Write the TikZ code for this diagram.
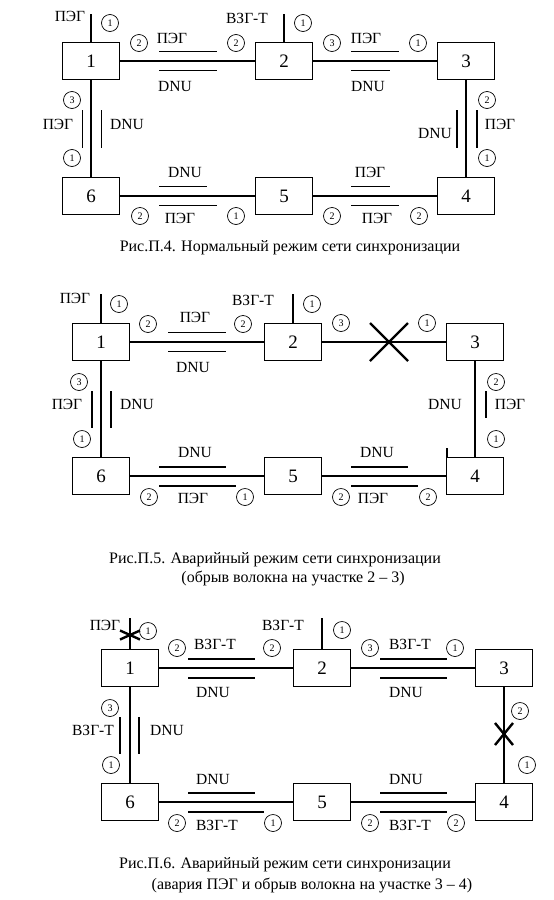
\documentclass[tikz,border=0pt]{standalone}
\usepackage{fontspec}
\setmainfont{Liberation Serif}

\begin{document}
\begin{tikzpicture}[x=1pt,y=-1pt,
  box/.style={draw,line width=1.8pt,minimum width=57pt,minimum height=37pt,inner sep=0pt,font=\fontsize{19}{19}\selectfont},
  link/.style={line width=1.5pt},
  bar/.style={line width=1.3pt},
  port/.style={circle,draw,line width=0.7pt,minimum size=17pt,inner sep=0pt,font=\fontsize{10}{10}\selectfont},
  lbl/.style={inner sep=0pt,font=\fontsize{15.5}{15.5}\selectfont},
  cut/.style={line width=2.4pt},
  capt/.style={inner sep=0pt,font=\fontsize{16}{16}\selectfont}]
  \useasboundingbox (0,0) rectangle (554,900);

  % Рис.П.4
  \begin{scope}[shift={(91,61)},name prefix=a-]
    \foreach \i/\x/\y in {1/0/0,2/193/0,3/375/0,4/375/135,5/193/135,6/0/135}
      \node[box] (n\i) at (\x,\y) {\i};
    \coordinate (t1) at (0,-47);
    \coordinate (t2) at (193,-47);
    \draw[link] (n1) -- (t1) (n2) -- (t2);
    \draw[link] (n1) -- (n2) (n2) -- (n3) (n3) -- (n4)
                (n4) -- (n5) (n5) -- (n6) (n6) -- (n1);

    \node[lbl] (l1) at (-21,-45) {ПЭГ};
    \node[port] (p1) at (19,-38) {1};
    \node[lbl] (l2) at (156,-43) {ВЗГ-Т};
    \node[port] (p2) at (212,-38) {1};

    \node[port] (p3) at (48,-18) {2};
    \node[lbl] (l3) at (81,-23) {ПЭГ};
    \node[port] (p4) at (145,-18) {2};
    \draw[bar] (68,-9.5) -- (126,-9.5) (68,9.5) -- (126,9.5);
    \node[lbl] (l4) at (84,25) {DNU};

    \node[port] (p5) at (241,-18) {3};
    \node[lbl] (l5) at (275,-23) {ПЭГ};
    \node[port] (p6) at (327,-18) {1};
    \draw[bar] (260,-9.5) -- (308,-9.5) (260,9.5) -- (299,9.5);
    \node[lbl] (l6) at (277,25) {DNU};

    \node[port] (p7) at (-19,39) {3};
    \node[lbl] (l7) at (-33,63) {ПЭГ};
    \draw[bar] (-8.5,49) -- (-8.5,87) (10.5,49) -- (10.5,87);
    \node[lbl] (l8) at (36,63) {DNU};
    \node[port] (p8) at (-19,97) {1};

    \node[port] (p9) at (396,39) {2};
    \node[lbl] (l9) at (344,72) {DNU};
    \draw[bar] (366,49) -- (366,87) (386,49) -- (386,87);
    \node[lbl] (l10) at (409,63) {ПЭГ};
    \node[port] (p10) at (396,97) {1};

    \node[lbl] (l11) at (94,111) {DNU};
    \draw[bar] (68,125.5) -- (116,125.5) (68,144.5) -- (126,144.5);
    \node[port] (p11) at (49,155) {2};
    \node[lbl] (l12) at (89,157) {ПЭГ};
    \node[port] (p12) at (145,155) {1};

    \node[lbl] (l13) at (279,111) {ПЭГ};
    \draw[bar] (260,125.5) -- (299,125.5) (260,144.5) -- (308,144.5);
    \node[port] (p13) at (241,155) {2};
    \node[lbl] (l14) at (286,157) {ПЭГ};
    \node[port] (p14) at (328,155) {2};
  \end{scope}
  \node[capt] (cap4) at (290,248) {Рис.П.4. Нормальный режим сети синхронизации};

  % Рис.П.5
  \begin{scope}[shift={(101,342)},name prefix=b-]
    \foreach \i/\x/\y in {1/0/0,2/192/0,3/374/0,4/374/134,5/192/134,6/0/134}
      \node[box] (n\i) at (\x,\y) {\i};
    \coordinate (t1) at (0,-48);
    \coordinate (t2) at (192,-48);
    \draw[link] (n1) -- (t1) (n2) -- (t2);
    \draw[link] (n1) -- (n2) (n2) -- (n3) (n3) -- (n4)
                (n4) -- (n5) (n5) -- (n6) (n6) -- (n1);

    \node[lbl] (l1) at (-26,-44) {ПЭГ};
    \node[port] (p1) at (18,-38) {1};
    \node[lbl] (l2) at (152,-42) {ВЗГ-Т};
    \node[port] (p2) at (211,-38) {1};

    \node[port] (p3) at (47,-18) {2};
    \node[lbl] (l3) at (94,-25) {ПЭГ};
    \node[port] (p4) at (142,-18) {2};
    \draw[bar] (67,-9.5) -- (125,-9.5) (67,9.5) -- (125,9.5);
    \node[lbl] (l4) at (92,25) {DNU};

    % обрыв 2--3
    \node[port] (p5) at (240,-19) {3};
    \draw[cut] (269,-19) -- (307,19) (269,19) -- (307,-19);
    \node[port] (p6) at (326,-19) {1};

    \node[port] (p7) at (-22,40) {3};
    \node[lbl] (l7) at (-34,62) {ПЭГ};
    \draw[bar] (-9,49) -- (-9,86) (10,49) -- (10,86);
    \node[lbl] (l8) at (36,62) {DNU};
    \node[port] (p8) at (-19,97) {1};

    \node[port] (p9) at (395,40) {2};
    \node[lbl] (l9) at (344,62) {DNU};
    \draw[bar] (385,49) -- (385,76);
    \draw[bar] (346,106) -- (346,115);
    \node[lbl] (l10) at (409,62) {ПЭГ};
    \node[port] (p10) at (395,97) {1};

    \node[lbl] (l11) at (94,110) {DNU};
    \draw[bar] (58,125) -- (125,125) (58,144) -- (135,144);
    \node[port] (p11) at (48,155) {2};
    \node[lbl] (l12) at (92,156) {ПЭГ};
    \node[port] (p12) at (144,155) {1};

    \node[lbl] (l13) at (276,110) {DNU};
    \draw[bar] (250,125) -- (307,125) (250,144) -- (317,144);
    \node[port] (p13) at (240,155) {2};
    \node[lbl] (l14) at (272,156) {ПЭГ};
    \node[port] (p14) at (327,155) {2};
  \end{scope}
  \node[capt] (cap5a) at (275,560) {Рис.П.5. Аварийный режим сети синхронизации};
  \node[capt] (cap5b) at (293,578) {(обрыв волокна на участке 2 – 3)};

  % Рис.П.6
  \begin{scope}[shift={(130,668)},name prefix=c-]
    \foreach \i/\x/\y in {1/0/0,2/192/0,3/374/0,4/374/134,5/192/134,6/0/134}
      \node[box] (n\i) at (\x,\y) {\i};
    \coordinate (t1) at (0,-50);
    \coordinate (t2) at (192,-50);
    \draw[link] (n1) -- (t1) (n2) -- (t2);
    \draw[link] (n1) -- (n2) (n2) -- (n3) (n3) -- (n4)
                (n4) -- (n5) (n5) -- (n6) (n6) -- (n1);

    \node[lbl] (l1) at (-25,-43) {ПЭГ};
    \draw[cut] (-10,-37.5) -- (10,-28.5) (-10,-28.5) -- (10,-37.5);
    \node[port] (p1) at (18,-37) {1};
    \node[lbl] (l2) at (153,-43) {ВЗГ-Т};
    \node[port] (p2) at (212,-38) {1};

    \node[port] (p3) at (47,-20) {2};
    \node[lbl] (l3) at (85,-24) {ВЗГ-Т};
    \node[port] (p4) at (142,-20) {2};
    \draw[bar] (58,-9) -- (125,-9) (58,10) -- (125,10);
    \node[lbl] (l4) at (83,24) {DNU};

    \node[port] (p5) at (240,-20) {3};
    \node[lbl] (l5) at (280,-24) {ВЗГ-Т};
    \node[port] (p6) at (325,-20) {1};
    \draw[bar] (250,-9) -- (317,-9) (250,10) -- (317,10);
    \node[lbl] (l6) at (276,24) {DNU};

    \node[port] (p7) at (-20,40) {3};
    \node[lbl] (l7) at (-37,62) {ВЗГ-Т};
    \draw[bar] (-10,49) -- (-10,86) (9,49) -- (9,86);
    \node[lbl] (l8) at (37,62) {DNU};
    \node[port] (p8) at (-19,97) {1};

    % обрыв 3--4
    \node[port] (p9) at (390,43) {2};
    \draw[cut] (365,55) -- (383,77) (365,77) -- (383,55);
    \node[port] (p10) at (397,97) {1};

    \node[lbl] (l11) at (83,111) {DNU};
    \draw[bar] (58,125) -- (125,125) (58,144) -- (134,144);
    \node[port] (p11) at (47,155) {2};
    \node[lbl] (l12) at (87,157) {ВЗГ-Т};
    \node[port] (p12) at (143,155) {1};

    \node[lbl] (l13) at (276,111) {DNU};
    \draw[bar] (250,125) -- (317,125) (250,144) -- (317,144);
    \node[port] (p13) at (240,155) {2};
    \node[lbl] (l14) at (280,157) {ВЗГ-Т};
    \node[port] (p14) at (326,155) {2};
  \end{scope}
  \node[capt] (cap6a) at (285,865) {Рис.П.6. Аварийный режим сети синхронизации};
  \node[capt] (cap6b) at (312,885) {(авария ПЭГ и обрыв волокна на участке 3 – 4)};
\end{tikzpicture}
\end{document}
